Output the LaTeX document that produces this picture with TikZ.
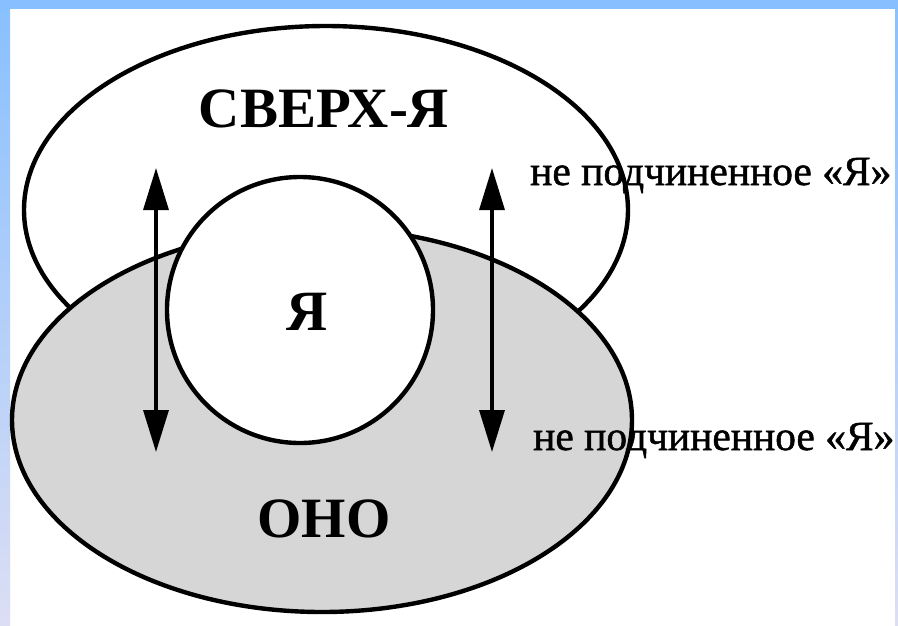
\documentclass[tikz,border=0pt]{standalone}
\usepackage{fontspec}
\setmainfont{Liberation Serif}
\newfontfamily\sidefont[FakeBold=1.2]{Liberation Serif}
\usetikzlibrary{arrows.meta}
\definecolor{frameblue}{HTML}{88C0FF}
\definecolor{framelav}{HTML}{DCDEF4}
\tikzset{
  outline/.style={draw=black,line width=4.4pt},
  bigtitle/.style={font=\fontsize{57}{60}\selectfont\bfseries,inner sep=0pt,anchor=base},
  sidelabel/.style={font=\fontsize{41.5}{44}\sidefont,inner sep=0pt,anchor=base west},
  twoway/.style={line width=3.4pt,{Triangle[width=25pt,length=42pt]}-{Triangle[width=25pt,length=42pt]}}
}
\begin{document}
\begin{tikzpicture}[x=1pt,y=-1pt]
\useasboundingbox (0,0) rectangle (898,625);
\fill[white] (0,0) rectangle (898,625);
% frame
\shade[top color=frameblue,bottom color=framelav] (0,0) rectangle (10,625);
\shade[top color=frameblue,bottom color=framelav] (895,0) rectangle (898,625);
\fill[frameblue] (0,0) rectangle (898,9);
% super-ego
\draw[outline,fill=white] (326,210) ellipse [x radius=302,y radius=184];
\node[bigtitle] (superego) at (324,127) {СВЕРХ-Я};
% id
\draw[outline,fill=black!16] (322,420) ellipse [x radius=310,y radius=192];
\node[bigtitle] (id) at (324,537) {ОНО};
% ego
\node[outline,fill=white,circle,minimum size=266pt,inner sep=0pt] (ego) at (300,310) {};
\node[bigtitle] (egolabel) at (307,330) {Я};
% arrows
\coordinate (lt) at (156,168);
\coordinate (lb) at (156,452);
\coordinate (rt) at (492,168);
\coordinate (rb) at (492,452);
\draw[twoway] (lt) -- (lb);
\draw[twoway] (rt) -- (rb);
% side labels
\node[sidelabel] (top) at (530,185) {не подчиненное «Я»};
\node[sidelabel] (bottom) at (533,450) {не подчиненное «Я»};
\end{tikzpicture}
\end{document}
